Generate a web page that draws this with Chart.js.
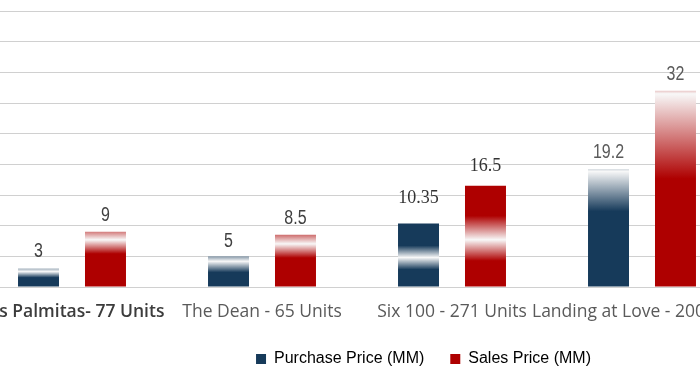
<!DOCTYPE html>
<html><head><meta charset="utf-8">
<script src="https://cdn.jsdelivr.net/npm/chart.js@4.4.0/dist/chart.umd.min.js"></script>
<style>
html,body{margin:0;padding:0;background:#fff;overflow:hidden;width:700px;height:368px;position:relative;}
#c{position:absolute;left:-23px;top:0;}
</style></head><body>
<canvas id="c" width="893" height="377"></canvas>
<script>
// ---- data ----
const categories = ['Las Palmitas- 77 Units', 'The Dean - 65 Units', 'Six 100 - 271 Units', 'Landing at Love - 200 Units'];
const seriesNames = ['Purchase Price (MM)', 'Sales Price (MM)'];
const purchasePrice = [3, 5, 10.35, 19.2];
const salesPrice = [9, 8.5, 16.5, 32];
const yMin = 0, yMax = 45, yStep = 5;

// ---- styles ----
const NAVY = '#163a5a';
const RED = '#ae0000';
const HIGHLIGHT = '#f8f8f8';
// highlight band per bar: [offset from bar top px, spread above px, spread below px]
const navyBands = [[3, 8, 6], [5, 10, 11], [34, 12, 12], [2, 10, 40]];
const redBands = [[8, 16, 14], [9, 16, 14], [54, 24, 21], [3, 15, 85]];
// value label styles
const NARROW = '19.5px "Liberation Sans", Arial, sans-serif';
const SERIF = '18px "Liberation Serif", "Times New Roman", serif';
const labelStyles = [
  [{font: NARROW, sx: 0.82, color: '#404040', gap: 12},
   {font: NARROW, sx: 0.82, color: '#404040', gap: 9},
   {font: SERIF, sx: 1, color: '#333333', gap: 21},
   {font: NARROW, sx: 0.82, color: '#5a5a5a', gap: 11}],
  [{font: NARROW, sx: 0.82, color: '#404040', gap: 11},
   {font: NARROW, sx: 0.82, color: '#404040', gap: 11},
   {font: SERIF, sx: 1, color: '#333333', gap: 15},
   {font: NARROW, sx: 0.82, color: '#5a5a5a', gap: 11}]
];

function hexToRgb(h) {
  const n = parseInt(h.slice(1), 16);
  return [(n >> 16) & 255, (n >> 8) & 255, n & 255];
}
function mix(a, b, t) {
  const A = hexToRgb(a), B = hexToRgb(b);
  const c = A.map((v, i) => Math.round(v + (B[i] - v) * t));
  return `rgb(${c[0]},${c[1]},${c[2]})`;
}
function barFill(base, bands) {
  return (ctx) => {
    const chart = ctx.chart;
    if (!chart.chartArea || ctx.type !== 'data') return base;
    const ys = chart.scales.y;
    const top = ys.getPixelForValue(ctx.raw);
    const bot = ys.getPixelForValue(0);
    const h = bot - top;
    if (h <= 1) return base;
    const [p, up, dn] = bands[ctx.dataIndex];
    const g = chart.ctx.createLinearGradient(0, top, 0, bot);
    const cl = (v) => Math.max(0, Math.min(1, v));
    if (p - up > 0) {
      g.addColorStop(0, base);
      g.addColorStop(cl((p - up) / h), base);
    } else {
      g.addColorStop(0, mix(HIGHLIGHT, base, p / up));
    }
    g.addColorStop(cl(p / h), HIGHLIGHT);
    if (p + dn < h) {
      g.addColorStop(cl((p + dn) / h), base);
      g.addColorStop(1, base);
    } else {
      g.addColorStop(1, mix(HIGHLIGHT, base, (h - p) / dn));
    }
    return g;
  };
}

const valueLabels = {
  id: 'valueLabels',
  afterDatasetsDraw(chart) {
    const c = chart.ctx;
    chart.data.datasets.forEach((ds, di) => {
      chart.getDatasetMeta(di).data.forEach((bar, i) => {
        const st = labelStyles[di][i];
        c.save();
        c.font = st.font;
        c.fillStyle = st.color;
        c.textAlign = 'center';
        c.textBaseline = 'alphabetic';
        c.translate(bar.x, bar.y - st.gap);
        c.scale(st.sx, 1);
        c.fillText(String(ds.data[i]), 0, 0);
        c.restore();
      });
    });
  }
};

const legendColors = [NAVY, RED];

new Chart(document.getElementById('c'), {
  type: 'bar',
  data: {
    labels: categories,
    datasets: [
      {label: seriesNames[0], data: purchasePrice, backgroundColor: barFill(NAVY, navyBands), borderWidth: 0},
      {label: seriesNames[1], data: salesPrice, backgroundColor: barFill(RED, redBands), borderWidth: 0}
    ]
  },
  options: {
    responsive: false,
    animation: false,
    devicePixelRatio: 1,
    categoryPercentage: 0.705,
    barPercentage: 0.612,
    layout: {autoPadding: false, padding: {top: 11, left: 0, right: 0, bottom: 0}},
    plugins: {
      tooltip: {enabled: false},
      legend: {
        position: 'bottom',
        labels: {
          boxWidth: 10,
          boxHeight: 10,
          padding: 26,
          color: '#595959',
          font: {family: '"Liberation Sans", Arial, sans-serif', size: 16},
          generateLabels: (chart) => chart.data.datasets.map((ds, i) => ({
            text: ds.label, fillStyle: legendColors[i], strokeStyle: legendColors[i],
            lineWidth: 0, hidden: false, datasetIndex: i
          }))
        }
      }
    },
    scales: {
      x: {
        grid: {display: true, drawOnChartArea: false, drawTicks: true, tickLength: 15, color: 'rgba(0,0,0,0)'},
        border: {display: false},
        ticks: {
          autoSkip: false, maxRotation: 0, minRotation: 0, padding: 0,
          color: (c) => c.index === 0 ? '#3c3c3c' : '#5a5a5a',
          font: (c) => c.index === 0
            ? {family: '"Open Sans", sans-serif', size: 17.5, weight: '600'}
            : {family: '"Open Sans", sans-serif', size: 17.5, weight: 'normal'}
        },
        afterFit(s) { s.height = 38; }
      },
      y: {
        min: yMin, max: yMax,
        ticks: {stepSize: yStep, display: false},
        grid: {color: '#d0d0d0', lineWidth: 1, drawTicks: false},
        border: {display: false},
        afterFit(s) { s.width = 0; }
      },
      yR: {
        type: 'linear', position: 'right', display: true,
        min: yMin, max: yMax,
        ticks: {display: false},
        grid: {display: false, drawTicks: false},
        border: {display: false},
        afterFit(s) { s.width = 133; }
      }
    }
  },
  plugins: [valueLabels]
});
</script>
</body></html>
